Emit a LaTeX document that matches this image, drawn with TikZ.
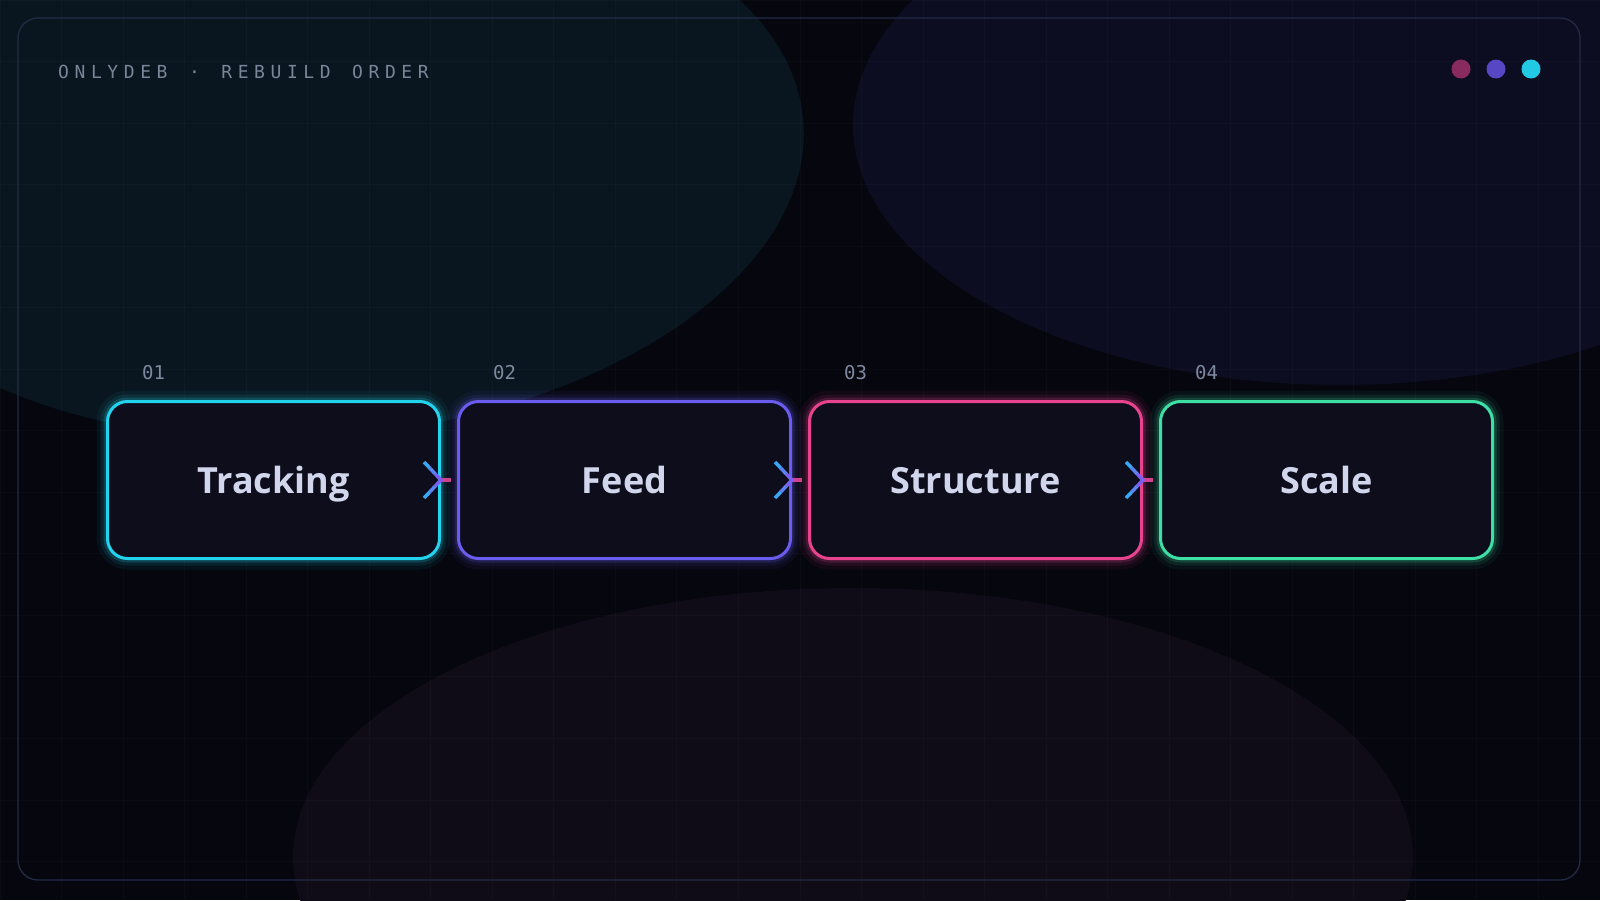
\documentclass[tikz,border=0pt]{standalone}
\usepackage{fontspec}
\usetikzlibrary{positioning}

\newfontfamily\stagefont{Open Sans}
\newfontfamily\tagfont{DejaVu Sans Mono}
\newfontfamily\headfont{DejaVu Sans Mono}[LetterSpace=31, WordSpace=1.31]

\definecolor{bgbase}{HTML}{05060E}
\definecolor{blobteal}{HTML}{09161F}
\definecolor{blobviolet}{HTML}{0D0D21}
\definecolor{blobrose}{HTML}{0F0B17}
\definecolor{framecol}{HTML}{242A46}
\definecolor{headgrey}{HTML}{7A8599}
\definecolor{numgrey}{HTML}{7F889E}
\definecolor{boxfill}{HTML}{0D0D1C}
\definecolor{stagetext}{HTML}{D2D6EC}
\definecolor{cyanline}{HTML}{22D3EE}
\definecolor{violetline}{HTML}{6B5CF0}
\definecolor{pinkline}{HTML}{E8438F}
\definecolor{greenline}{HTML}{3DDFA5}
\definecolor{dotrose}{HTML}{8A2B5F}
\definecolor{dotviolet}{HTML}{5847C4}
\definecolor{dotcyan}{HTML}{22C9E4}
\definecolor{chevA}{HTML}{38A8F4}
\definecolor{chevB}{HTML}{5A84F4}
\definecolor{chevC}{HTML}{7A60F2}
\definecolor{stubpink}{HTML}{D2418F}

\tikzset{
  chevron/.pic={
    \draw[line width=3.5pt, chevA] (-17,18) -- (-11.3,12) (-17,-18) -- (-11.3,-12);
    \draw[line width=3.5pt, chevB] (-11.3,12) -- (-5.7,6) (-11.3,-12) -- (-5.7,-6);
    \draw[line width=3.5pt, chevC, miter limit=10] (-5.7,6) -- (0,0) -- (-5.7,-6);
  }
}

\begin{document}
\begin{tikzpicture}[x=1pt, y=1pt,
  stage/.style={draw=#1, line width=3pt, rounded corners=20pt, fill=boxfill,
    minimum width=332pt, minimum height=157pt, text=stagetext,
    font=\stagefont\bfseries\fontsize{36}{40}\selectfont, text height=26pt, text depth=0pt,
    preaction={draw=#1, line width=22pt, draw opacity=.06},
    preaction={draw=#1, line width=14pt, draw opacity=.09},
    preaction={draw=#1, line width=8pt, draw opacity=.18}},
  num/.style={font=\tagfont\fontsize{19}{22}\selectfont, text=numgrey, inner sep=0pt, anchor=base west},
  dot/.style={circle, minimum size=19pt, inner sep=0pt},
  stub/.style={line width=3.5pt, stubpink},
  gridline/.style={white, opacity=.025, line width=1pt}]

\useasboundingbox (0,0) rectangle (1600,-900);
\begin{scope}
\clip (0,0) rectangle (1600,-900);
\fill[bgbase] (0,0) rectangle (1600,-900);
\fill[blobteal, rotate around={5:(320,-162)}] (320,-162) ellipse [x radius=485pt, y radius=275pt];
\fill[blobviolet] (1340,-125) ellipse [x radius=487pt, y radius=260pt];
\fill[blobrose] (853,-857) ellipse [x radius=560pt, y radius=269pt];
\draw[gridline, step=61.54pt] (0,-900) grid (1600,0);
\end{scope}

\draw[framecol, line width=1.3pt, rounded corners=20pt] (18,-18) rectangle (1580,-880);

\node[anchor=base west, inner sep=0pt, text=headgrey, font=\headfont\fontsize{18}{20}\selectfont] (title) at (58,-78) {ONLYDEB · REBUILD ORDER};

\node[dot, fill=dotrose] (d1) at (1461,-69) {};
\node[dot, fill=dotviolet] (d2) at (1496,-69) {};
\node[dot, fill=dotcyan] (d3) at (1531,-69) {};

\node[stage=cyanline] (track) at (273.5,-480) {Tracking};
\node[stage=violetline, right=16pt of track] (feed) {Feed};
\node[stage=pinkline, right=16pt of feed] (struct) {Structure};
\node[stage=greenline, right=16pt of struct] (scale) {Scale};

\node[num] (n1) at ([shift={(36,21)}]track.north west) {01};
\node[num] (n2) at ([shift={(36,21)}]feed.north west) {02};
\node[num] (n3) at ([shift={(36,21)}]struct.north west) {03};
\node[num] (n4) at ([shift={(36,21)}]scale.north west) {04};

\draw[stub] (track.east) -- ([xshift=-6pt]feed.west);
\draw[stub] (feed.east) -- ([xshift=-6pt]struct.west);
\draw[stub] (struct.east) -- ([xshift=-6pt]scale.west);
\pic at (track.east) {chevron};
\pic at (feed.east) {chevron};
\pic at (struct.east) {chevron};

\end{tikzpicture}
\end{document}
